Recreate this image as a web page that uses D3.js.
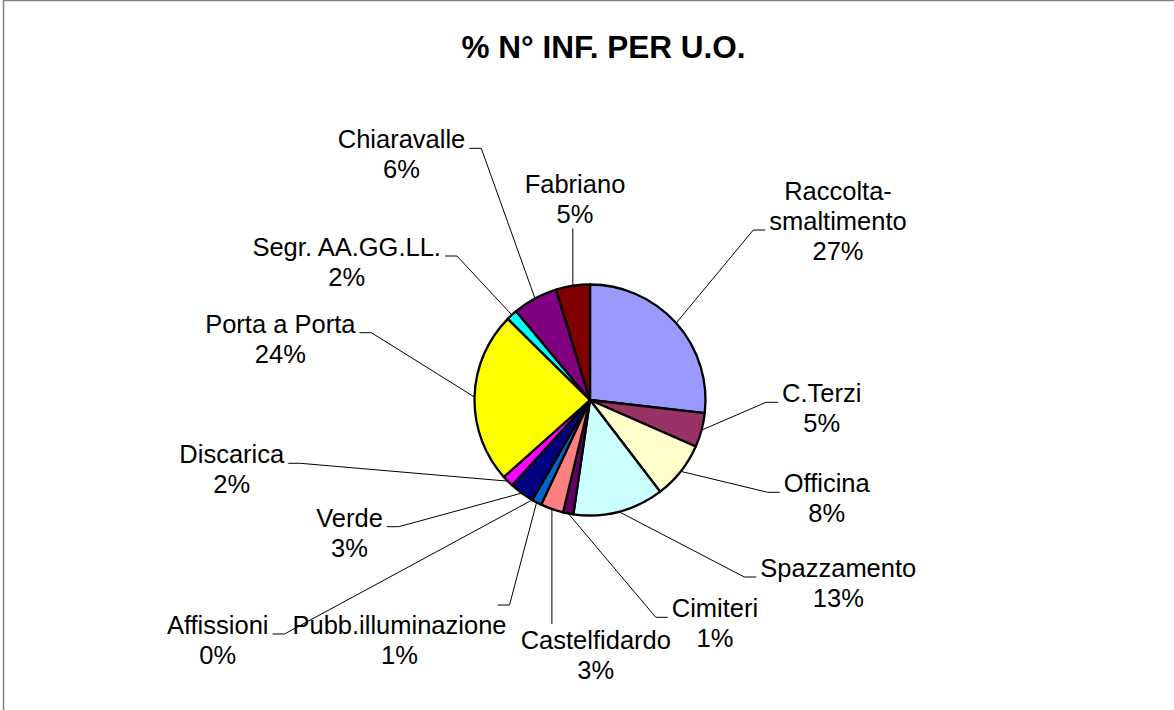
<!DOCTYPE html>
<html>
<head>
<meta charset="utf-8">
<script src="https://d3js.org/d3.v7.min.js"></script>
<style>
  body { margin: 0; background: #fff; }
  svg { display: block; font-family: Arial, "Liberation Sans", sans-serif; }
  .lbl { font-size: 25.5px; fill: #000; }
  .title { font-size: 31.5px; font-weight: bold; fill: #000; }
  .leader { fill: none; stroke: #000; stroke-width: 1; }
</style>
</head>
<body>
<div id="chart"></div>
<script>
// data (share of injuries per operating unit)
var categories = ["Raccolta-smaltimento", "C.Terzi", "Officina", "Spazzamento", "Cimiteri",
  "Castelfidardo", "Pubb.illuminazione", "Affissioni", "Verde", "Discarica",
  "Porta a Porta", "Segr. AA.GG.LL.", "Chiaravalle", "Fabriano"];
var values = [26.8, 4.8, 8.0, 12.7, 1.45, 3.2, 1.4, 0, 3.45, 1.6, 24.0, 1.55, 6.3, 4.75];

// excel default palette, in slice order
var colors = ["#9999FF", "#993366", "#FFFFCC", "#CCFFFF", "#660066", "#FF8080", "#0066CC",
  "#CCCCFF", "#000080", "#FF00FF", "#FFFF00", "#00FFFF", "#800080", "#800000"];

// where each label block sits (centre x, first baseline) and which side the leader attaches
var labelPos = [
  [838, 200, "right"], [821.7, 402.3, "right"], [826.7, 492.3, "right"], [838.3, 577, "right"],
  [715, 617.3, "right"], [595.8, 649, "below"], [399.5, 634, "topright"], [217.7, 634, "left"],
  [349.5, 526.7, "left"], [231.8, 463.3, "left"], [280.3, 332.7, "left"], [346.7, 256, "left"],
  [401.5, 148.3, "left"], [575, 193.3, "above"]
];

var width = 1174, height = 710;
var cx = 590, cy = 400, radius = 115.5;
var lineH = 30;

var svg = d3.select("#chart").append("svg").attr("width", width).attr("height", height);

// chart frame (only top and left edges fall inside the picture)
svg.append("rect")
  .attr("x", 3.5).attr("y", 0.5)
  .attr("width", width + 20).attr("height", height + 20)
  .attr("fill", "#fff").attr("stroke", "#808080").attr("stroke-width", 1.5);

svg.append("text").attr("class", "title")
  .attr("x", 603.5).attr("y", 58)
  .attr("text-anchor", "middle")
  .text("% N\u00B0 INF. PER U.O.");

var total = d3.sum(values);
var pie = d3.pie().sort(null).value(function(d) { return d; }).startAngle(0).endAngle(2 * Math.PI);
var arcs = pie(values);
var arc = d3.arc().innerRadius(0).outerRadius(radius);

var g = svg.append("g").attr("transform", "translate(" + cx + "," + cy + ")");

g.selectAll("path.slice")
  .data(arcs)
  .enter()
  .append("path")
  .attr("class", "slice")
  .attr("d", arc)
  .attr("fill", function(d, i) { return colors[i]; })
  .attr("stroke", "#000")
  .attr("stroke-width", 2.3)
  .attr("stroke-linejoin", "round");

// labels: name (split after hyphen) + rounded percent
var labels = svg.append("g");
var leaders = svg.append("g");

arcs.forEach(function(d, i) {
  var lines = categories[i].replace("-", "-\n").split("\n");
  lines.push(Math.round(values[i] / total * 100) + "%");
  var p = labelPos[i];

  var t = labels.append("text").attr("class", "lbl").attr("text-anchor", "middle");
  var maxW = 0;
  lines.forEach(function(s, k) {
    var ts = t.append("tspan").attr("x", p[0]).attr("y", p[1] + k * lineH).text(s);
    maxW = Math.max(maxW, ts.node().getComputedTextLength());
  });

  var left = p[0] - maxW / 2, right = p[0] + maxW / 2;
  var mid = (d.startAngle + d.endAngle) / 2;
  var sx = cx + radius * Math.sin(mid), sy = cy - radius * Math.cos(mid);
  var ly = p[1] + Math.floor((lines.length - 1) / 2) * lineH;
  var pts;

  if (p[2] == "right") {
    pts = [[sx, sy], [left - 16, ly], [left - 4, ly]];
  } else if (p[2] == "left") {
    pts = [[sx, sy], [right + 16, ly], [right + 4, ly]];
  } else if (p[2] == "below") {
    pts = [[sx, sy], [sx, p[1] - 25]];
  } else if (p[2] == "above") {
    pts = [[sx, sy], [sx, p[1] + (lines.length - 1) * lineH + 5]];
  } else {
    pts = [[sx, sy], [right + 3, p[1] - 29], [right - 9, p[1] - 29]];
  }

  leaders.append("path").attr("class", "leader").attr("d", d3.line()(pts));
});
</script>
</body>
</html>
